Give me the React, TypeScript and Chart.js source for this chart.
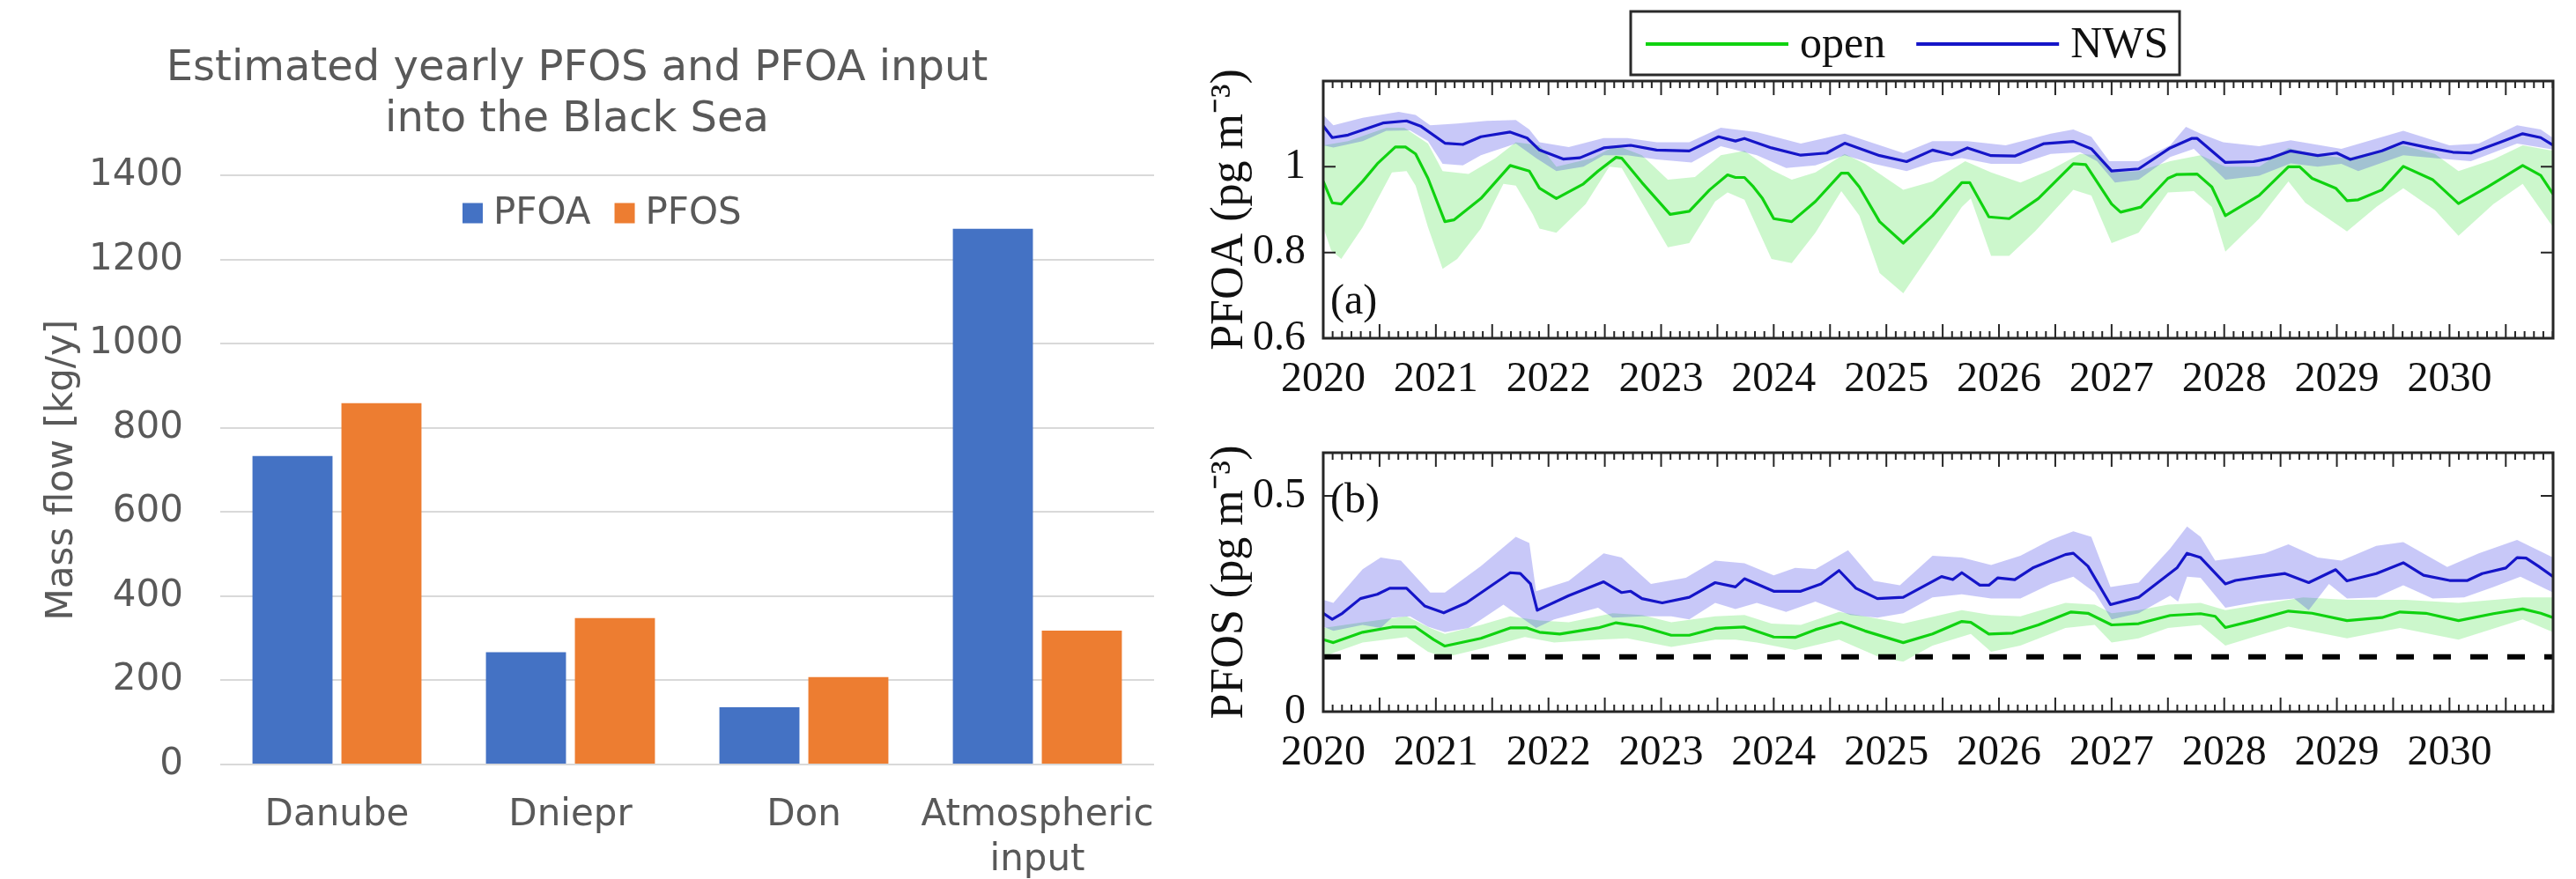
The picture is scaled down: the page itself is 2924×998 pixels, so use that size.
import React, { useEffect, useRef } from 'react';
import { Chart, registerables } from 'chart.js';

Chart.register(...registerables);

type Pt = [number, number];

// ---------- Left panel: yearly input (bar chart) ----------
const barCategories: (string | string[])[] = ['Danube', 'Dniepr', 'Don', ['Atmospheric', 'input']];
const pfoaInputKgPerYear = [733, 267, 136, 1273];
const pfosInputKgPerYear = [859, 348, 208, 318];
const massFlowTicks = [0, 200, 400, 600, 800, 1000, 1200, 1400];

// ---------- Right panels: time series ----------
const timeStart = 2020;
const timeEnd = 2030.92;
const yearTicks = [2020, 2021, 2022, 2023, 2024, 2025, 2026, 2027, 2028, 2029, 2030];
const pfoaTicks = [0.6, 0.8, 1];
const pfosTicks = [0, 0.5];
const pfosDashedLevel = 0.127;

// (a) PFOA
const pfoaOpen: Pt[] = [[2020.00,0.966],[2020.08,0.916],[2020.16,0.913],[2020.35,0.966],[2020.48,1.007],[2020.64,1.046],[2020.73,1.046],[2020.82,1.03],[2020.93,0.973],[2021.08,0.872],[2021.16,0.876],[2021.40,0.926],[2021.66,1.003],[2021.83,0.99],[2021.92,0.95],[2022.07,0.926],[2022.31,0.96],[2022.44,0.99],[2022.60,1.022],[2022.65,1.02],[2022.83,0.963],[2023.08,0.889],[2023.25,0.896],[2023.43,0.946],[2023.59,0.981],[2023.66,0.975],[2023.74,0.975],[2023.82,0.953],[2023.90,0.926],[2024.00,0.879],[2024.16,0.872],[2024.37,0.919],[2024.60,0.985],[2024.66,0.985],[2024.76,0.953],[2024.94,0.872],[2025.15,0.822],[2025.41,0.886],[2025.67,0.963],[2025.74,0.963],[2025.91,0.883],[2026.09,0.879],[2026.35,0.926],[2026.66,1.007],[2026.77,1.005],[2027.00,0.913],[2027.08,0.894],[2027.26,0.906],[2027.50,0.973],[2027.58,0.982],[2027.76,0.983],[2027.89,0.953],[2028.01,0.886],[2028.31,0.933],[2028.57,1.0],[2028.67,1.0],[2028.78,0.973],[2028.99,0.95],[2029.09,0.921],[2029.19,0.923],[2029.40,0.946],[2029.59,1.001],[2029.85,0.97],[2030.08,0.914],[2030.34,0.953],[2030.65,1.003],[2030.81,0.98],[2030.92,0.936]];
const pfoaOpenHi: Pt[] = [[2020.00,1.05],[2020.22,1.06],[2020.56,1.091],[2020.72,1.091],[2020.93,1.054],[2021.06,0.99],[2021.29,0.983],[2021.53,1.02],[2021.71,1.057],[2021.92,1.05],[2022.07,1.0],[2022.39,1.02],[2022.60,1.05],[2022.83,1.027],[2023.06,0.97],[2023.30,0.976],[2023.53,1.027],[2023.74,1.037],[2023.98,0.993],[2024.16,0.97],[2024.37,0.987],[2024.63,1.03],[2024.81,1.007],[2025.15,0.946],[2025.41,0.966],[2025.70,1.013],[2025.93,0.987],[2026.19,0.963],[2026.46,0.993],[2026.72,1.03],[2026.87,1.027],[2027.00,0.987],[2027.24,0.99],[2027.52,1.013],[2027.79,1.027],[2028.01,1.0],[2028.31,1.0],[2028.57,1.044],[2028.83,1.027],[2029.09,1.02],[2029.59,1.05],[2029.87,1.03],[2030.08,0.99],[2030.39,1.017],[2030.65,1.05],[2030.92,1.037]];
const pfoaOpenLo: Pt[] = [[2020.00,0.859],[2020.07,0.805],[2020.16,0.785],[2020.35,0.859],[2020.61,0.987],[2020.74,0.99],[2020.82,0.956],[2020.93,0.859],[2021.06,0.762],[2021.19,0.785],[2021.40,0.856],[2021.60,0.96],[2021.71,0.956],[2021.86,0.889],[2021.92,0.856],[2022.07,0.846],[2022.33,0.913],[2022.54,1.0],[2022.65,0.997],[2022.83,0.916],[2023.06,0.812],[2023.25,0.822],[2023.48,0.919],[2023.59,0.94],[2023.74,0.923],[2023.98,0.785],[2024.16,0.775],[2024.37,0.846],[2024.60,0.943],[2024.76,0.886],[2024.94,0.752],[2025.15,0.705],[2025.41,0.805],[2025.67,0.906],[2025.75,0.926],[2025.93,0.792],[2026.09,0.792],[2026.32,0.849],[2026.66,0.946],[2026.82,0.933],[2027.00,0.822],[2027.24,0.846],[2027.50,0.94],[2027.73,0.943],[2027.89,0.906],[2028.01,0.802],[2028.31,0.879],[2028.57,0.966],[2028.72,0.916],[2029.09,0.849],[2029.35,0.906],[2029.59,0.95],[2029.87,0.899],[2030.08,0.839],[2030.39,0.913],[2030.65,0.96],[2030.92,0.859]];
const pfoaNws: Pt[] = [[2020.00,1.095],[2020.08,1.068],[2020.22,1.074],[2020.53,1.102],[2020.74,1.107],[2020.87,1.094],[2021.08,1.055],[2021.24,1.052],[2021.40,1.07],[2021.66,1.081],[2021.81,1.067],[2021.92,1.039],[2022.13,1.018],[2022.28,1.021],[2022.49,1.044],[2022.73,1.05],[2022.96,1.039],[2023.25,1.037],[2023.51,1.07],[2023.66,1.06],[2023.74,1.066],[2023.98,1.044],[2024.24,1.027],[2024.47,1.032],[2024.63,1.055],[2024.94,1.026],[2025.18,1.012],[2025.41,1.039],[2025.58,1.028],[2025.72,1.044],[2025.93,1.026],[2026.14,1.025],[2026.40,1.054],[2026.66,1.059],[2026.82,1.042],[2027.00,0.99],[2027.24,0.995],[2027.52,1.044],[2027.71,1.066],[2027.76,1.066],[2028.01,1.01],[2028.26,1.012],[2028.41,1.02],[2028.59,1.037],[2028.83,1.026],[2029.00,1.032],[2029.12,1.017],[2029.40,1.037],[2029.59,1.057],[2029.82,1.044],[2030.03,1.034],[2030.19,1.032],[2030.45,1.057],[2030.65,1.077],[2030.81,1.068],[2030.92,1.05]];
const pfoaNwsHi: Pt[] = [[2020.00,1.121],[2020.09,1.097],[2020.35,1.114],[2020.67,1.128],[2020.82,1.121],[2020.95,1.097],[2021.19,1.101],[2021.45,1.107],[2021.71,1.109],[2021.83,1.087],[2021.92,1.057],[2022.18,1.046],[2022.49,1.067],[2022.70,1.067],[2022.96,1.057],[2023.25,1.057],[2023.53,1.091],[2023.85,1.081],[2024.24,1.054],[2024.63,1.077],[2025.15,1.032],[2025.41,1.06],[2025.72,1.06],[2026.06,1.05],[2026.46,1.077],[2026.66,1.087],[2026.82,1.07],[2026.98,1.013],[2027.24,1.013],[2027.52,1.05],[2027.66,1.093],[2027.79,1.077],[2027.99,1.057],[2028.31,1.048],[2028.59,1.062],[2029.04,1.042],[2029.59,1.084],[2030.00,1.05],[2030.26,1.054],[2030.60,1.097],[2030.81,1.087],[2030.92,1.067]];
const pfoaNwsLo: Pt[] = [[2020.00,1.05],[2020.09,1.045],[2020.35,1.06],[2020.56,1.084],[2020.77,1.085],[2020.93,1.06],[2021.06,1.007],[2021.24,1.003],[2021.40,1.027],[2021.71,1.054],[2021.89,1.02],[2022.07,0.99],[2022.31,1.0],[2022.49,1.027],[2022.70,1.027],[2022.96,1.017],[2023.27,1.01],[2023.53,1.048],[2023.85,1.027],[2024.11,0.997],[2024.37,1.003],[2024.63,1.027],[2024.89,1.007],[2025.18,0.99],[2025.41,1.01],[2025.67,1.02],[2025.93,1.007],[2026.19,1.007],[2026.46,1.03],[2026.72,1.034],[2026.87,1.013],[2027.03,0.963],[2027.24,0.97],[2027.52,1.023],[2027.73,1.042],[2028.01,0.97],[2028.31,0.979],[2028.59,1.008],[2028.83,1.0],[2029.04,1.007],[2029.19,0.99],[2029.59,1.027],[2030.00,1.017],[2030.19,1.013],[2030.60,1.054],[2030.92,1.04]];

// (b) PFOS
const pfosOpen: Pt[] = [[2020.00,0.167],[2020.09,0.16],[2020.35,0.184],[2020.61,0.196],[2020.82,0.196],[2020.98,0.167],[2021.08,0.152],[2021.40,0.17],[2021.66,0.194],[2021.81,0.194],[2021.92,0.184],[2022.10,0.18],[2022.44,0.194],[2022.60,0.206],[2022.83,0.197],[2023.09,0.177],[2023.25,0.177],[2023.48,0.193],[2023.74,0.196],[2024.00,0.173],[2024.19,0.172],[2024.37,0.19],[2024.60,0.207],[2024.81,0.187],[2025.15,0.16],[2025.41,0.18],[2025.67,0.209],[2025.75,0.207],[2025.91,0.18],[2026.12,0.182],[2026.35,0.201],[2026.64,0.231],[2026.79,0.228],[2027.00,0.201],[2027.24,0.204],[2027.52,0.223],[2027.79,0.227],[2027.92,0.221],[2028.01,0.195],[2028.26,0.211],[2028.57,0.233],[2028.78,0.228],[2029.09,0.211],[2029.40,0.218],[2029.56,0.231],[2029.79,0.228],[2030.08,0.211],[2030.39,0.227],[2030.65,0.238],[2030.81,0.228],[2030.92,0.218]];
const pfosOpenHi: Pt[] = [[2020.00,0.194],[2020.35,0.207],[2020.74,0.221],[2020.95,0.194],[2021.08,0.18],[2021.40,0.201],[2021.66,0.221],[2021.92,0.211],[2022.18,0.207],[2022.57,0.228],[2022.83,0.224],[2023.09,0.207],[2023.48,0.221],[2023.74,0.224],[2023.98,0.204],[2024.24,0.201],[2024.58,0.231],[2024.81,0.221],[2025.15,0.204],[2025.67,0.235],[2025.93,0.224],[2026.19,0.221],[2026.59,0.252],[2026.85,0.248],[2027.00,0.228],[2027.24,0.235],[2027.50,0.248],[2027.79,0.252],[2028.01,0.235],[2028.31,0.248],[2028.70,0.265],[2029.09,0.259],[2029.61,0.259],[2030.08,0.252],[2030.65,0.265],[2030.92,0.265]];
const pfosOpenLo: Pt[] = [[2020.00,0.126],[2020.09,0.136],[2020.35,0.16],[2020.74,0.173],[2020.93,0.139],[2021.08,0.126],[2021.40,0.146],[2021.79,0.173],[2022.05,0.16],[2022.44,0.167],[2022.70,0.17],[2023.09,0.15],[2023.48,0.167],[2023.66,0.167],[2023.85,0.16],[2024.19,0.143],[2024.58,0.167],[2024.94,0.126],[2025.15,0.116],[2025.41,0.153],[2025.75,0.18],[2025.93,0.139],[2026.19,0.153],[2026.59,0.194],[2026.85,0.201],[2027.00,0.16],[2027.24,0.17],[2027.50,0.194],[2027.79,0.201],[2028.01,0.153],[2028.31,0.177],[2028.57,0.197],[2029.09,0.17],[2029.56,0.194],[2030.08,0.167],[2030.65,0.214],[2030.92,0.184]];
const pfosNws: Pt[] = [[2020.00,0.228],[2020.08,0.214],[2020.17,0.228],[2020.33,0.262],[2020.48,0.272],[2020.59,0.286],[2020.74,0.286],[2020.90,0.245],[2021.07,0.229],[2021.27,0.252],[2021.66,0.322],[2021.75,0.32],[2021.84,0.296],[2021.90,0.235],[2022.18,0.269],[2022.49,0.301],[2022.65,0.276],[2022.73,0.279],[2022.83,0.262],[2023.01,0.252],[2023.25,0.265],[2023.48,0.299],[2023.66,0.289],[2023.74,0.308],[2024.00,0.279],[2024.24,0.279],[2024.42,0.296],[2024.58,0.327],[2024.73,0.286],[2024.92,0.262],[2025.15,0.265],[2025.49,0.313],[2025.59,0.306],[2025.67,0.322],[2025.83,0.293],[2025.91,0.293],[2025.99,0.31],[2026.14,0.306],[2026.30,0.333],[2026.59,0.364],[2026.66,0.367],[2026.79,0.337],[2026.99,0.248],[2027.24,0.265],[2027.58,0.333],[2027.67,0.367],[2027.79,0.357],[2028.01,0.296],[2028.10,0.304],[2028.33,0.313],[2028.54,0.32],[2028.75,0.299],[2028.99,0.329],[2029.09,0.303],[2029.35,0.32],[2029.59,0.345],[2029.77,0.316],[2030.00,0.304],[2030.16,0.304],[2030.29,0.32],[2030.50,0.333],[2030.60,0.357],[2030.68,0.356],[2030.79,0.337],[2030.92,0.313]];
const pfosNwsHi: Pt[] = [[2020.00,0.259],[2020.09,0.252],[2020.35,0.33],[2020.51,0.357],[2020.69,0.35],[2020.95,0.276],[2021.08,0.276],[2021.40,0.337],[2021.71,0.405],[2021.83,0.391],[2021.89,0.279],[2022.18,0.303],[2022.49,0.367],[2022.65,0.357],[2022.91,0.296],[2023.22,0.31],[2023.48,0.35],[2023.74,0.344],[2024.00,0.316],[2024.19,0.333],[2024.37,0.33],[2024.66,0.374],[2024.89,0.303],[2025.12,0.293],[2025.41,0.361],[2025.67,0.357],[2025.93,0.34],[2026.19,0.361],[2026.46,0.398],[2026.66,0.418],[2026.82,0.405],[2026.99,0.289],[2027.24,0.299],[2027.52,0.378],[2027.67,0.429],[2027.79,0.405],[2027.92,0.35],[2028.12,0.357],[2028.36,0.367],[2028.57,0.388],[2028.83,0.357],[2029.04,0.35],[2029.35,0.384],[2029.59,0.393],[2029.98,0.335],[2030.26,0.367],[2030.60,0.398],[2030.92,0.357]];
const pfosNwsLo: Pt[] = [[2020.00,0.197],[2020.09,0.187],[2020.35,0.201],[2020.51,0.194],[2020.61,0.218],[2020.77,0.221],[2020.93,0.197],[2021.08,0.184],[2021.29,0.194],[2021.60,0.248],[2021.76,0.218],[2021.89,0.194],[2022.05,0.214],[2022.44,0.241],[2022.57,0.218],[2022.83,0.221],[2023.09,0.221],[2023.25,0.214],[2023.48,0.252],[2023.66,0.238],[2023.85,0.252],[2024.11,0.231],[2024.37,0.255],[2024.68,0.224],[2024.92,0.218],[2025.15,0.228],[2025.41,0.265],[2025.67,0.272],[2025.93,0.262],[2026.19,0.262],[2026.46,0.296],[2026.66,0.313],[2026.85,0.276],[2027.00,0.214],[2027.24,0.228],[2027.52,0.269],[2027.59,0.255],[2027.67,0.313],[2027.79,0.31],[2028.01,0.241],[2028.31,0.255],[2028.62,0.262],[2028.75,0.235],[2028.93,0.296],[2029.09,0.262],[2029.35,0.265],[2029.59,0.293],[2029.85,0.262],[2030.13,0.265],[2030.39,0.289],[2030.63,0.313],[2030.92,0.276]];

// ---------- styles ----------
const sans = '"DejaVu Sans", Verdana, sans-serif';
const serif = '"Liberation Serif", "Times New Roman", serif';
const officeGray = '#595959';
const inkColor = '#111111';
const openColor = '#10d210';
const nwsColor = '#1515c8';
const openBand = 'rgba(0, 215, 0, 0.2)';
const nwsBand = 'rgba(25, 25, 225, 0.24)';

// ---------- plugins ----------
const barLegendPlugin = {
  id: 'barLegend',
  afterDraw(chart: any, _args: any, opts: any) {
    const ctx = chart.ctx;
    ctx.save();
    ctx.font = `42px ${sans}`;
    ctx.textBaseline = 'middle';
    ctx.textAlign = 'left';
    let x = opts.x;
    const y = opts.y;
    chart.data.datasets.forEach((ds: any) => {
      ctx.fillStyle = ds.backgroundColor;
      ctx.fillRect(x, y - 11.5, 23, 23);
      x += 23 + 12;
      ctx.fillStyle = officeGray;
      ctx.fillText(ds.label, x, y + 1);
      x += ctx.measureText(ds.label).width + 27;
    });
    ctx.restore();
  },
};

const frameTicksPlugin = {
  id: 'frameTicks',
  afterDatasetsDraw(chart: any, _args: any, opts: any) {
    const { ctx, chartArea } = chart;
    const { left, right, top, bottom } = chartArea;
    const xs = chart.scales.x;
    const ys = chart.scales.y;
    ctx.save();
    ctx.strokeStyle = '#262626';
    ctx.lineWidth = 2;
    ctx.beginPath();
    const months = Math.floor((xs.max - xs.min) * 12 + 1e-6);
    for (let m = 0; m <= months; m++) {
      const px = xs.getPixelForValue(xs.min + m / 12);
      const len = m % 6 === 0 ? 16 : 8;
      ctx.moveTo(px, bottom);
      ctx.lineTo(px, bottom - len);
      ctx.moveTo(px, top);
      ctx.lineTo(px, top + len);
    }
    ys.ticks.forEach((t: any) => {
      const py = ys.getPixelForValue(t.value);
      ctx.moveTo(left, py);
      ctx.lineTo(left + 14, py);
      ctx.moveTo(right, py);
      ctx.lineTo(right - 14, py);
    });
    ctx.stroke();
    ctx.lineWidth = 3;
    ctx.strokeRect(left, top, right - left, bottom - top);
    ctx.fillStyle = inkColor;
    ctx.font = `48px ${serif}`;
    ctx.textBaseline = 'alphabetic';
    ctx.textAlign = 'left';
    const ly = opts.labelAtBottom ? bottom - 28 : top + 68;
    ctx.fillText(opts.label, left + 8, ly);
    ctx.restore();
  },
};

const legendOrder = [1, 0];
const lineLegendPlugin = {
  id: 'lineLegend',
  afterDraw(chart: any) {
    const ctx = chart.ctx;
    ctx.save();
    const bx = 511, by = 13, bw = 623, bh = 72;
    ctx.fillStyle = '#ffffff';
    ctx.fillRect(bx, by, bw, bh);
    ctx.strokeStyle = '#2a2a2a';
    ctx.lineWidth = 3;
    ctx.strokeRect(bx, by, bw, bh);
    ctx.font = `50px ${serif}`;
    ctx.textBaseline = 'middle';
    ctx.textAlign = 'left';
    let x = bx + 17;
    const cy = by + 37;
    legendOrder.forEach((i) => {
      const ds = chart.data.datasets[i];
      ctx.strokeStyle = ds.borderColor;
      ctx.lineWidth = 4;
      ctx.beginPath();
      ctx.moveTo(x, cy);
      ctx.lineTo(x + 162, cy);
      ctx.stroke();
      x += 162 + 13;
      ctx.fillStyle = inkColor;
      ctx.fillText(ds.label, x, cy + 2);
      x += ctx.measureText(ds.label).width + 35;
    });
    ctx.restore();
  },
};

// ---------- bar chart ----------
function BarPanel() {
  const ref = useRef<HTMLCanvasElement>(null);
  useEffect(() => {
    const tickFont = { family: sans, size: 42, weight: 'normal' as const };
    const chart = new Chart(ref.current as HTMLCanvasElement, {
      type: 'bar',
      data: {
        labels: barCategories as any,
        datasets: [
          { label: 'PFOA', data: pfoaInputKgPerYear, backgroundColor: '#4472C4', categoryPercentage: 0.762, barPercentage: 0.9 },
          { label: 'PFOS', data: pfosInputKgPerYear, backgroundColor: '#ED7D31', categoryPercentage: 0.762, barPercentage: 0.9 },
        ],
      },
      options: {
        responsive: false,
        animation: false,
        events: [],
        layout: { padding: { left: 0, right: 30, top: 0, bottom: 0 } },
        plugins: {
          legend: { display: false },
          tooltip: { enabled: false },
          title: {
            display: true,
            text: ['Estimated yearly PFOS and PFOA input', 'into the Black Sea'],
            color: officeGray,
            font: { family: sans, size: 48, weight: 'normal', lineHeight: 1.2 },
            padding: { top: 50, bottom: 34 },
          },
          barLegend: { x: 525, y: 242 },
        } as any,
        scales: {
          x: {
            grid: { display: false, drawTicks: false },
            border: { display: false },
            ticks: { color: officeGray, font: tickFont, padding: 33, maxRotation: 0, autoSkip: false },
            afterFit: (s: any) => { s.height = 130; s.paddingLeft = 0; s.paddingRight = 0; },
          },
          y: {
            min: 0,
            max: 1400,
            afterBuildTicks: (s: any) => { s.ticks = massFlowTicks.map((v) => ({ value: v })); },
            grid: { color: '#d9d9d9', lineWidth: 2, drawTicks: false },
            border: { display: false },
            ticks: { color: officeGray, font: tickFont, padding: 42, callback: (v: any) => String(v) },
            title: { display: true, text: 'Mass flow [kg/y]', color: officeGray, font: { family: sans, size: 42, weight: 'normal' }, padding: { top: 46, bottom: 0 } },
            afterFit: (s: any) => { s.width = 250; s.paddingTop = 0; s.paddingBottom = 0; },
          },
        },
      },
      plugins: [barLegendPlugin],
    });
    return () => chart.destroy();
  }, []);
  return <canvas ref={ref} width={1340} height={998} style={{ position: 'absolute', left: 0, top: 0 }} />;
}

// ---------- time series panels ----------
function lineDs(label: string, data: Pt[], color: string) {
  return { label, data: data.map((p) => [p[0], p[1]]), borderColor: color, borderWidth: 3.2, pointRadius: 0, tension: 0, fill: false, borderJoinStyle: 'round' };
}
function bandDs(label: string, data: Pt[], color: string, fill: any) {
  return { label, data: data.map((p) => [p[0], p[1]]), borderColor: 'rgba(0,0,0,0)', borderWidth: 0, pointRadius: 0, tension: 0, fill, backgroundColor: color };
}

function buildPanel(which: 'a' | 'b') {
  if (which === 'a') {
    return {
      datasets: [
        lineDs('NWS', pfoaNws, nwsColor),
        lineDs('open', pfoaOpen, openColor),
        bandDs('NWS upper', pfoaNwsHi, nwsBand, false),
        bandDs('NWS lower', pfoaNwsLo, nwsBand, '-1'),
        bandDs('open upper', pfoaOpenHi, openBand, false),
        bandDs('open lower', pfoaOpenLo, openBand, '-1'),
      ],
      yMin: 0.6, yMax: 1.2, yTicks: pfoaTicks, title: 'PFOA (pg m\u207B\u00B3)',
      label: '(a)', labelAtBottom: true, padTop: 92, padBottom: 10, top: 0, height: 470, legend: true,
    };
  }
  return {
    datasets: [
      { label: 'dashed', data: [[timeStart, pfosDashedLevel], [timeEnd, pfosDashedLevel]], borderColor: '#000000', borderWidth: 6, borderDash: [20, 22], pointRadius: 0, fill: false, borderCapStyle: 'butt' },
      lineDs('NWS', pfosNws, nwsColor),
      lineDs('open', pfosOpen, openColor),
      bandDs('NWS upper', pfosNwsHi, nwsBand, false),
      bandDs('NWS lower', pfosNwsLo, nwsBand, '-1'),
      bandDs('open upper', pfosOpenHi, openBand, false),
      bandDs('open lower', pfosOpenLo, openBand, '-1'),
    ],
    yMin: 0, yMax: 0.6, yTicks: pfosTicks, title: 'PFOS (pg m\u207B\u00B3)',
    label: '(b)', labelAtBottom: false, padTop: 44, padBottom: 114, top: 470, height: 528, legend: false,
  };
}

function SeriesPanel({ which }: { which: 'a' | 'b' }) {
  const ref = useRef<HTMLCanvasElement>(null);
  const spec0 = buildPanel(which);
  useEffect(() => {
    const spec = buildPanel(which);
    const tickFont = { family: serif, size: 48, weight: 'normal' as const };
    const chart = new Chart(ref.current as HTMLCanvasElement, {
      type: 'line',
      data: { datasets: spec.datasets as any },
      options: {
        responsive: false,
        animation: false,
        events: [],
        layout: { padding: { left: 25, right: 26, top: spec.padTop, bottom: spec.padBottom } },
        plugins: {
          legend: { display: false },
          tooltip: { enabled: false },
          filler: { propagate: false },
          frameTicks: { label: spec.label, labelAtBottom: spec.labelAtBottom },
        } as any,
        scales: {
          x: {
            type: 'linear',
            min: timeStart,
            max: timeEnd,
            afterBuildTicks: (s: any) => { s.ticks = yearTicks.map((v) => ({ value: v })); },
            ticks: { color: inkColor, font: tickFont, padding: 19, maxRotation: 0, autoSkip: false, callback: (v: any) => String(v) },
            grid: { display: false, drawTicks: false },
            border: { display: false },
            afterFit: (s: any) => { s.height = 76; s.paddingLeft = 0; s.paddingRight = 0; },
          },
          y: {
            type: 'linear',
            min: spec.yMin,
            max: spec.yMax,
            afterBuildTicks: (s: any) => { s.ticks = spec.yTicks.map((v) => ({ value: v })); },
            ticks: { color: inkColor, font: tickFont, padding: 20, callback: (v: any) => String(v) },
            grid: { display: false, drawTicks: false },
            border: { display: false },
            title: { display: true, text: spec.title, color: inkColor, font: { family: serif, size: 52, weight: 'normal' }, padding: { top: 0, bottom: 0 } },
            afterFit: (s: any) => { s.width = 137; s.paddingTop = 0; s.paddingBottom = 0; },
          },
        },
      },
      plugins: spec.legend ? [frameTicksPlugin, lineLegendPlugin] : [frameTicksPlugin],
    });
    return () => chart.destroy();
  }, [which]);
  return <canvas ref={ref} width={1584} height={spec0.height} style={{ position: 'absolute', left: 1340, top: spec0.top }} />;
}

export default function App() {
  return (
    <div style={{ position: 'absolute', left: 0, top: 0, width: 2924, height: 998, background: '#ffffff', overflow: 'hidden' }}>
      <BarPanel />
      <SeriesPanel which="a" />
      <SeriesPanel which="b" />
    </div>
  );
}
